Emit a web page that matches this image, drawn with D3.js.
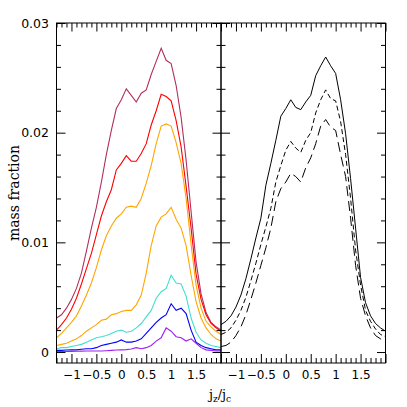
<!DOCTYPE html>
<html><head><meta charset="utf-8">
<script src="https://cdn.jsdelivr.net/npm/d3@7"></script>
<style>body{margin:0;background:#fff}</style>
</head><body>
<svg id="c" width="407" height="407"></svg>
<script>
// bin centres, j_z / j_c
const jzjc = [-1.3,-1.2,-1.1,-1.0,-0.9,-0.8,-0.7,-0.6,-0.5,-0.4,-0.3,-0.2,-0.1,0.0,0.1,0.2,0.3,0.4,0.5,0.6,0.7,0.8,0.9,1.0,1.1,1.2,1.3,1.4,1.5,1.6,1.7,1.8,1.9,2.0];

// left panel series
const maroonSeries = [0.0031,0.0034,0.0040,0.0048,0.0058,0.0072,0.0092,0.0113,0.0132,0.0155,0.0180,0.0202,0.0222,0.0230,0.0240,0.0234,0.0228,0.0236,0.0239,0.0253,0.0265,0.0277,0.0266,0.0263,0.0243,0.0214,0.0175,0.0128,0.0082,0.0053,0.0036,0.0027,0.0023,0.0020];
const redSeries = [0.0020,0.0025,0.0031,0.0039,0.0049,0.0062,0.0076,0.0090,0.0107,0.0124,0.0137,0.0148,0.0166,0.0172,0.0179,0.0174,0.0174,0.0181,0.0190,0.0207,0.0220,0.0235,0.0233,0.0229,0.0211,0.0187,0.0151,0.0113,0.0071,0.0048,0.0034,0.0026,0.0022,0.0019];
const orange1Series = [0.0013,0.0017,0.0022,0.0027,0.0033,0.0042,0.0052,0.0063,0.0077,0.0093,0.0106,0.0115,0.0122,0.0126,0.0132,0.0133,0.0132,0.0140,0.0154,0.0170,0.0190,0.0206,0.0208,0.0206,0.0191,0.0172,0.0140,0.0098,0.0061,0.0040,0.0028,0.0023,0.0019,0.0016];
const orange2Series = [0.0006,0.0007,0.0008,0.0010,0.0012,0.0015,0.0019,0.0022,0.0025,0.0029,0.0030,0.0034,0.0035,0.0037,0.0038,0.0038,0.0043,0.0052,0.0072,0.0097,0.0115,0.0123,0.0126,0.0132,0.0121,0.0113,0.0097,0.0070,0.0046,0.0031,0.0022,0.0016,0.0012,0.0010];
const turquoiseSeries = [0.0003,0.0004,0.0004,0.0005,0.0006,0.0007,0.0009,0.0011,0.0013,0.0014,0.0015,0.0017,0.0019,0.0020,0.0018,0.0019,0.0022,0.0026,0.0032,0.0038,0.0049,0.0055,0.0058,0.0070,0.0063,0.0062,0.0051,0.0031,0.0018,0.0011,0.0008,0.0006,0.0005,0.0004];
const blueSeries = [0.00015,0.00015,0.00018,0.0002,0.0002,0.00025,0.0003,0.0003,0.0004,0.0006,0.0007,0.0008,0.0009,0.0011,0.0009,0.0009,0.0010,0.0012,0.0017,0.0022,0.0027,0.0031,0.0034,0.0044,0.0038,0.0040,0.0035,0.0020,0.0009,0.0006,0.0004,0.0003,0.0002,0.0002];
const purpleSeries = [0.00005,0.00005,0.00005,0.00006,0.00007,0.00008,0.0001,0.0001,0.0001,0.0001,0.00012,0.00015,0.00018,0.0002,0.00022,0.00028,0.0004,0.0003,0.0004,0.0006,0.0010,0.0013,0.0022,0.0019,0.0014,0.0013,0.0010,0.0012,0.0008,0.0004,0.0002,0.00015,0.0001,0.0001];

// right panel series
const solidSeries = [0.0025,0.0028,0.0033,0.0041,0.0052,0.0067,0.0085,0.0104,0.0122,0.0152,0.0172,0.0193,0.0215,0.0222,0.0230,0.0223,0.0221,0.0228,0.0234,0.0252,0.0261,0.0269,0.0261,0.0254,0.0230,0.0199,0.0158,0.0113,0.0068,0.0045,0.0033,0.0026,0.0022,0.0019];
const shortDashSeries = [0.0016,0.0018,0.0022,0.0029,0.0038,0.0050,0.0065,0.0081,0.0098,0.0114,0.0131,0.0155,0.0170,0.0184,0.0192,0.0186,0.0182,0.0193,0.0200,0.0218,0.0230,0.0239,0.0231,0.0229,0.0210,0.0180,0.0140,0.0093,0.0061,0.0038,0.0028,0.0021,0.0016,0.0014];
const longDashSeries = [0.0005,0.0006,0.0009,0.0015,0.0023,0.0034,0.0048,0.0063,0.0079,0.0095,0.0113,0.0137,0.0149,0.0155,0.0163,0.0160,0.0155,0.0168,0.0177,0.0190,0.0206,0.0212,0.0205,0.0202,0.0180,0.0160,0.0122,0.0079,0.0049,0.0033,0.0022,0.0015,0.0012,0.0010];

const xTickLabels = [-1,-0.5,0,0.5,1,1.5];
const yTickLabels = [0,0.01,0.02,0.03];

const leftLines = [
  {v: maroonSeries, c: "#b03060"},
  {v: redSeries, c: "#ff0000"},
  {v: orange1Series, c: "#ffa500"},
  {v: orange2Series, c: "#ffa500"},
  {v: turquoiseSeries, c: "#40e0d0"},
  {v: blueSeries, c: "#0000ff"},
  {v: purpleSeries, c: "#a020f0"}
];
const rightLines = [
  {v: solidSeries, d: null},
  {v: shortDashSeries, d: "5,3"},
  {v: longDashSeries, d: "10,5"}
];

const svg = d3.select("#c");
const yTop = 23, yBottom = 363;
const y = d3.scaleLinear().domain([-0.001, 0.03]).range([yBottom, yTop]);
const xL = d3.scaleLinear().domain([-1.3, 2.0]).range([56.5, 221]);
const xR = d3.scaleLinear().domain([-1.3, 2.0]).range([221, 385.5]);

const minorX = d3.range(-13, 21).map(i => i / 10).filter(v => Math.abs(v * 2 - Math.round(v * 2)) > 1e-6);
const majorX = [-1, -0.5, 0, 0.5, 1, 1.5, 2];
const minorY = d3.range(0, 16).map(i => i * 0.002).filter(v => Math.abs(v * 100 - Math.round(v * 100)) > 1e-6);
const fmtX = d => xTickLabels.includes(d) ? (d < 0 ? "\u2212" + Math.abs(d) : String(d)) : "";
const fmtY = d => d === 0 ? "0" : d3.format(".2f")(d);

function clean(g) { g.select(".domain").remove(); g.selectAll("line").attr("stroke", "#000"); }

function panel(x, id, lines, isLeft) {
  const g = svg.append("g");
  g.append("clipPath").attr("id", id).append("rect")
    .attr("x", x.range()[0]).attr("y", yTop).attr("width", x.range()[1] - x.range()[0]).attr("height", yBottom - yTop);
  const line = d3.line().x((d, i) => x(jzjc[i])).y(d => y(d));
  const lg = g.append("g").attr("clip-path", `url(#${id})`);
  lines.forEach(L => {
    lg.append("path").datum(L.v).attr("d", line).attr("fill", "none")
      .attr("stroke", L.c || "#000").attr("stroke-width", L.c ? 1.1 : 1)
      .attr("stroke-dasharray", L.d || null);
  });
  // bottom
  g.append("g").attr("transform", `translate(0,${yBottom})`)
    .call(d3.axisBottom(x).tickValues(minorX).tickSize(-5).tickSizeOuter(0).tickFormat(""))
    .call(clean);
  g.append("g").attr("transform", `translate(0,${yBottom})`)
    .call(d3.axisBottom(x).tickValues(majorX).tickSize(-9).tickSizeOuter(0).tickPadding(7.5).tickFormat(fmtX))
    .call(clean)
    .call(s => s.selectAll("text").attr("font-family", "DejaVu Sans").attr("font-size", 12).attr("fill", "#000"));
  // top
  g.append("g").attr("transform", `translate(0,${yTop})`)
    .call(d3.axisTop(x).tickValues(minorX).tickSize(-4.5).tickSizeOuter(0).tickFormat(""))
    .call(clean);
  g.append("g").attr("transform", `translate(0,${yTop})`)
    .call(d3.axisTop(x).tickValues(majorX).tickSize(-8.5).tickSizeOuter(0).tickFormat(""))
    .call(clean);
  // left side
  const x0 = x.range()[0], x1 = x.range()[1];
  g.append("g").attr("transform", `translate(${x0},0)`)
    .call(d3.axisLeft(y).tickValues(minorY).tickSize(-4.5).tickSizeOuter(0).tickFormat(""))
    .call(clean);
  g.append("g").attr("transform", `translate(${x0},0)`)
    .call(d3.axisLeft(y).tickValues(yTickLabels).tickSize(-9).tickSizeOuter(0).tickPadding(7.5)
      .tickFormat(isLeft ? fmtY : ""))
    .call(clean)
    .call(s => s.selectAll("text").attr("font-family", "DejaVu Sans").attr("font-size", 12.5).attr("fill", "#000"));
  // right side
  g.append("g").attr("transform", `translate(${x1},0)`)
    .call(d3.axisRight(y).tickValues(minorY).tickSize(-4.5).tickSizeOuter(0).tickFormat(""))
    .call(clean);
  g.append("g").attr("transform", `translate(${x1},0)`)
    .call(d3.axisRight(y).tickValues(yTickLabels).tickSize(-8.5).tickSizeOuter(0).tickFormat(""))
    .call(clean);
  g.append("rect").attr("x", x0).attr("y", yTop).attr("width", x1 - x0).attr("height", yBottom - yTop)
    .attr("fill", "none").attr("stroke", "#000").attr("stroke-width", 1);
}

panel(xL, "clipL", leftLines, true);
panel(xR, "clipR", rightLines, false);

svg.append("text").attr("transform", "translate(18.5,193) rotate(-90)")
  .attr("text-anchor", "middle").attr("font-family", "DejaVu Serif").attr("font-size", 14)
  .text("mass fraction");

const xl = svg.append("text").attr("x", 220).attr("y", 399).attr("text-anchor", "middle")
  .attr("font-family", "DejaVu Serif").attr("font-size", 13);
xl.append("tspan").text("j");
xl.append("tspan").attr("dy", 3).attr("font-size", 9).text("z");
xl.append("tspan").attr("dy", -3).text("/j");
xl.append("tspan").attr("dy", 3).attr("font-size", 9).text("c");
</script>
</body></html>
